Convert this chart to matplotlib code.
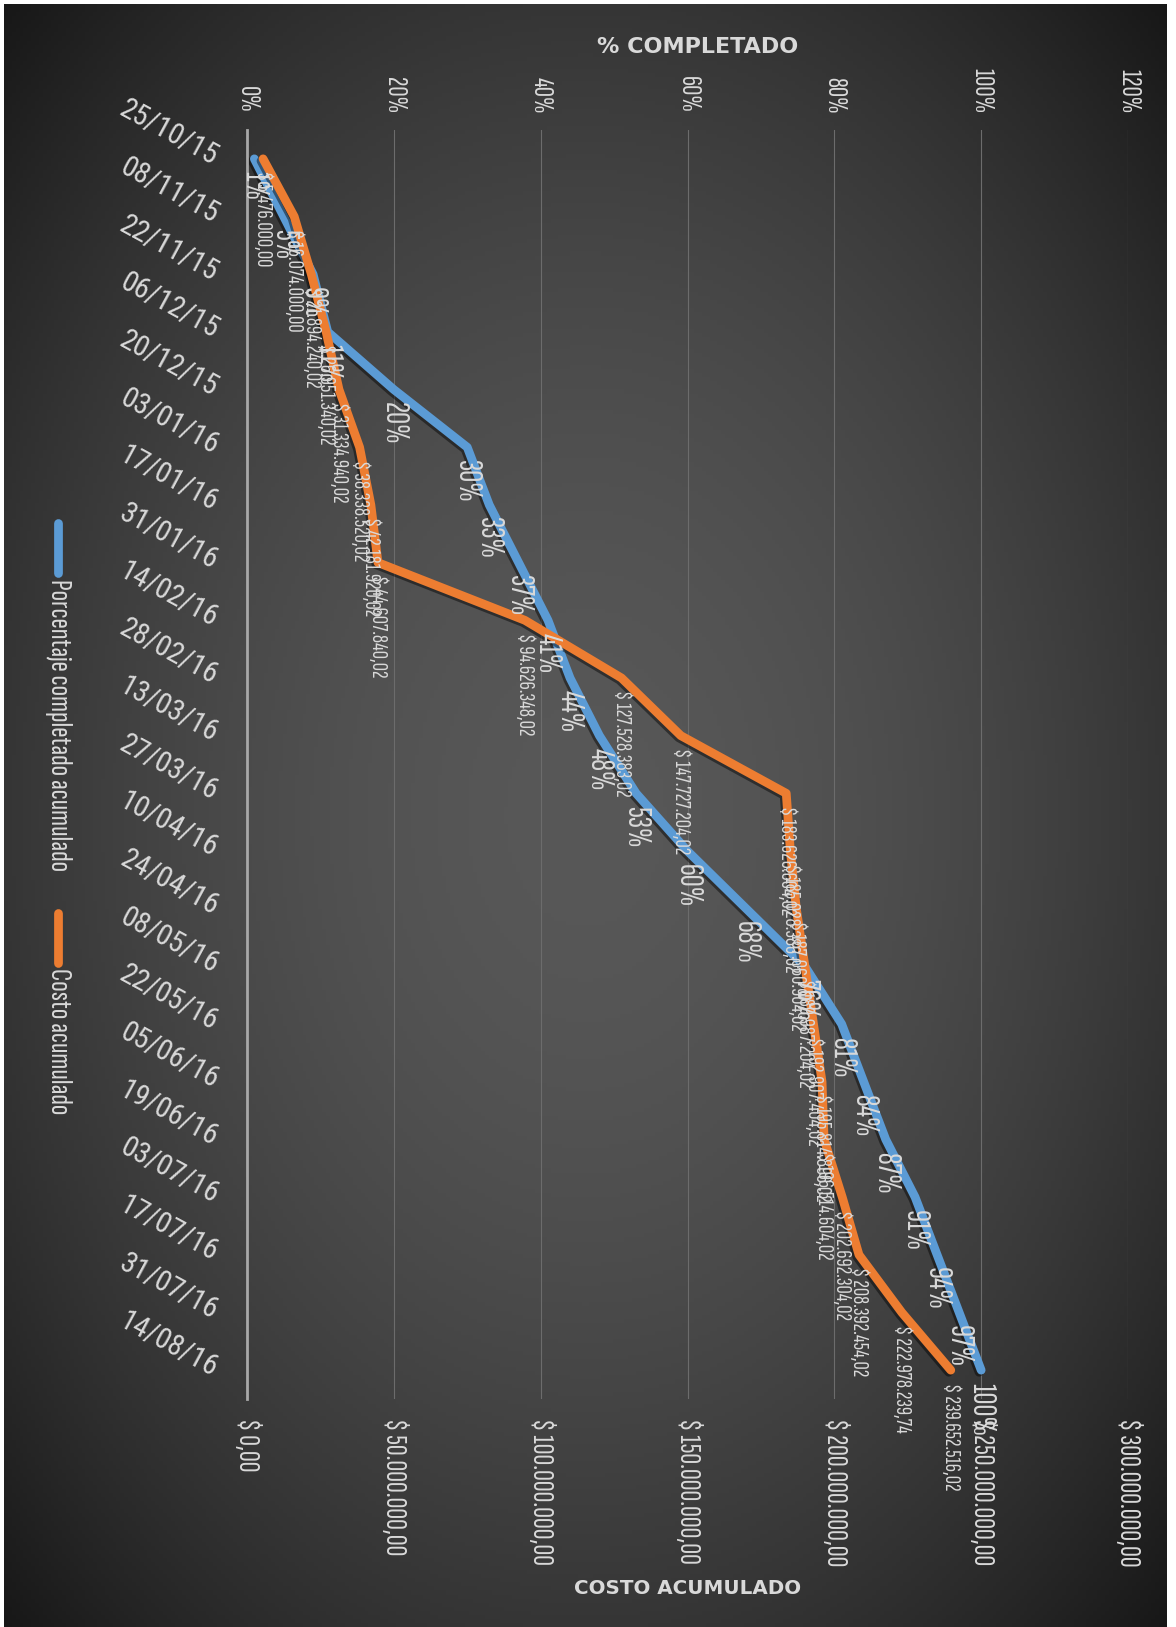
"""
Curva S del proyecto: % completado acumulado vs costo acumulado.
Gráfico dibujado girado 90° (fechas hacia abajo), como la imagen original.
"""

import numpy as np
import pandas as pd
import matplotlib
matplotlib.use("Agg")
import matplotlib.pyplot as plt
import matplotlib.dates as mdates
import matplotlib.patheffects as pe
from matplotlib.lines import Line2D

# --- Datos ---
dates = ["25/10/15", "08/11/15", "22/11/15", "06/12/15", "20/12/15", "03/01/16",
         "17/01/16", "31/01/16", "14/02/16", "28/02/16", "13/03/16", "27/03/16",
         "10/04/16", "24/04/16", "08/05/16", "22/05/16", "05/06/16", "19/06/16",
         "03/07/16", "17/07/16", "31/07/16", "14/08/16"]
pct_complete = [1, 5, 9, 11, 20, 30, 33, 37, 41, 44, 48, 53, 60, 68, 76, 81,
                84, 87, 91, 94, 97, 100]
cost_cum = [5476000.00, 16074000.00, 21894240.02, 26951340.02, 31334940.02,
            38338520.02, 42181920.02, 44607840.02, 94626348.02, 127528383.02,
            147727204.02, 183626604.02, 185028386.02, 187060904.02, 189987204.02,
            192907404.02, 195814896.02, 196514604.02, 202692304.02, 208392454.02,
            222978239.74, 239652516.02]
pct_ticks = [0, 20, 40, 60, 80, 100, 120]
cost_ticks = [0, 50e6, 100e6, 150e6, 200e6, 250e6, 300e6]

BLUE = "#5B9BD5"
ORANGE = "#ED7D31"
TXT = "#d9d9d9"
NARROW = ["Sofia Sans Extra Condensed", "Liberation Sans", "DejaVu Sans"]
COND = ["Roboto Condensed", "Liberation Sans", "DejaVu Sans"]

W, H = 1176, 1627


def fmt_money(v):
    s = f"{v:,.2f}".replace(",", "X").replace(".", ",").replace("X", ".")
    return f"$ {s}"


# fechas como numeros de matplotlib (eje vertical)
ydates = mdates.date2num(pd.to_datetime(dates, format="%d/%m/%y"))

fig = plt.figure(figsize=(W / 100, H / 100), dpi=100, facecolor="white")

# fondo oscuro con degradado radial
bg = fig.add_axes([4 / W, 0, (1167 - 4) / W, (1627 - 4) / H], zorder=-10)
yy, xx = np.mgrid[0:1:400j, 0:1:300j]
r = np.sqrt(((xx - 0.5) / 0.62) ** 2 + ((yy - 0.5) / 0.62) ** 2)
v = 0.345 - 0.20 * np.clip(r, 0, 1.15) ** 1.8
bg.imshow(np.dstack([v, v, v]), aspect="auto", extent=[0, 1, 0, 1])
bg.axis("off")

ax = fig.add_axes([247 / W, 1 - 1399 / H, (1128 - 247) / W, (1399 - 130) / H])
ax.patch.set_visible(False)
ax2 = ax.twiny()
ax2.patch.set_visible(False)

shadow = [pe.SimpleLineShadow(offset=(-1.5, -1.5), shadow_color="black", alpha=0.45),
          pe.Normal()]
ax.plot(pct_complete, ydates, color=BLUE, lw=6.3, solid_capstyle="round",
        solid_joinstyle="round", path_effects=shadow)
ax2.plot(cost_cum, ydates, color=ORANGE, lw=6.3, solid_capstyle="round",
         solid_joinstyle="round", path_effects=shadow)

# escalas
ax.set_xlim(0, 120)
ax2.set_xlim(0, 300e6)
ax.set_ylim(ydates[-1] + 7, ydates[0] - 7)

ax.xaxis.set_ticks_position("top")
ax.set_xticks(pct_ticks)
ax.set_xticklabels([f"{t}%" for t in pct_ticks])
ax.tick_params(axis="x", length=0, pad=12, labelsize=20.5, labelcolor=TXT, rotation=-90)

ax2.xaxis.set_ticks_position("bottom")
ax2.set_xticks(cost_ticks)
ax2.set_xticklabels([fmt_money(t) for t in cost_ticks])
ax2.tick_params(axis="x", length=0, pad=14, labelsize=21.5, labelcolor=TXT, rotation=-90)

ax.set_yticks(ydates)
ax.set_yticklabels(dates)
ax.tick_params(axis="y", length=0, pad=22, labelsize=21, labelcolor=TXT)
plt.setp(ax.get_yticklabels(), rotation=-28.5, ha="right", va="center",
         rotation_mode="anchor", fontfamily=COND)

for lab in ax.get_xticklabels() + ax2.get_xticklabels():
    lab.set_fontfamily(NARROW)

ax.grid(axis="x", color="#6c6c6c", lw=0.8)
ax.grid(axis="y", visible=False)
for a in (ax, ax2):
    for s in a.spines.values():
        s.set_visible(False)
ax.spines["left"].set_visible(True)
ax.spines["left"].set_color("#a8a8a8")
ax.spines["left"].set_linewidth(2)

# etiquetas de datos
for y, p in zip(ydates, pct_complete):
    ax2.annotate(f"{p}%", (p, y), xycoords=ax.transData, xytext=(0, -9),
                 textcoords="offset points", rotation=-90, ha="center", va="top",
                 fontsize=24, color=TXT, family=NARROW)
for y, c in zip(ydates, cost_cum):
    ax2.annotate(fmt_money(c), (c, y), xytext=(0, -9), textcoords="offset points",
                 rotation=-90, ha="center", va="top", fontsize=16.4, color=TXT,
                 family=NARROW)

# titulos de ejes
fig.text(698 / W, 1 - 47 / H, "% COMPLETADO", ha="center", va="center",
         fontsize=16, weight="bold", color=TXT)
fig.text(688 / W, 1 - 1588 / H, "COSTO ACUMULADO", ha="center", va="center",
         fontsize=14.3, weight="bold", color=TXT)

# leyenda (vertical)
lx = 58 / W
for (y0, y1, ty, color, label) in [(523, 573, 579, BLUE, "Porcentaje completado acumulado"),
                                   (913, 963, 968, ORANGE, "Costo acumulado")]:
    fig.add_artist(Line2D([lx, lx], [1 - y0 / H, 1 - y1 / H], transform=fig.transFigure,
                          color=color, lw=6.3, solid_capstyle="round"))
    fig.text(lx, 1 - ty / H, label, rotation=-90, ha="center", va="top",
             fontsize=22.4, color=TXT, family=NARROW)

fig.savefig("out.png", dpi=100, facecolor=fig.get_facecolor())
